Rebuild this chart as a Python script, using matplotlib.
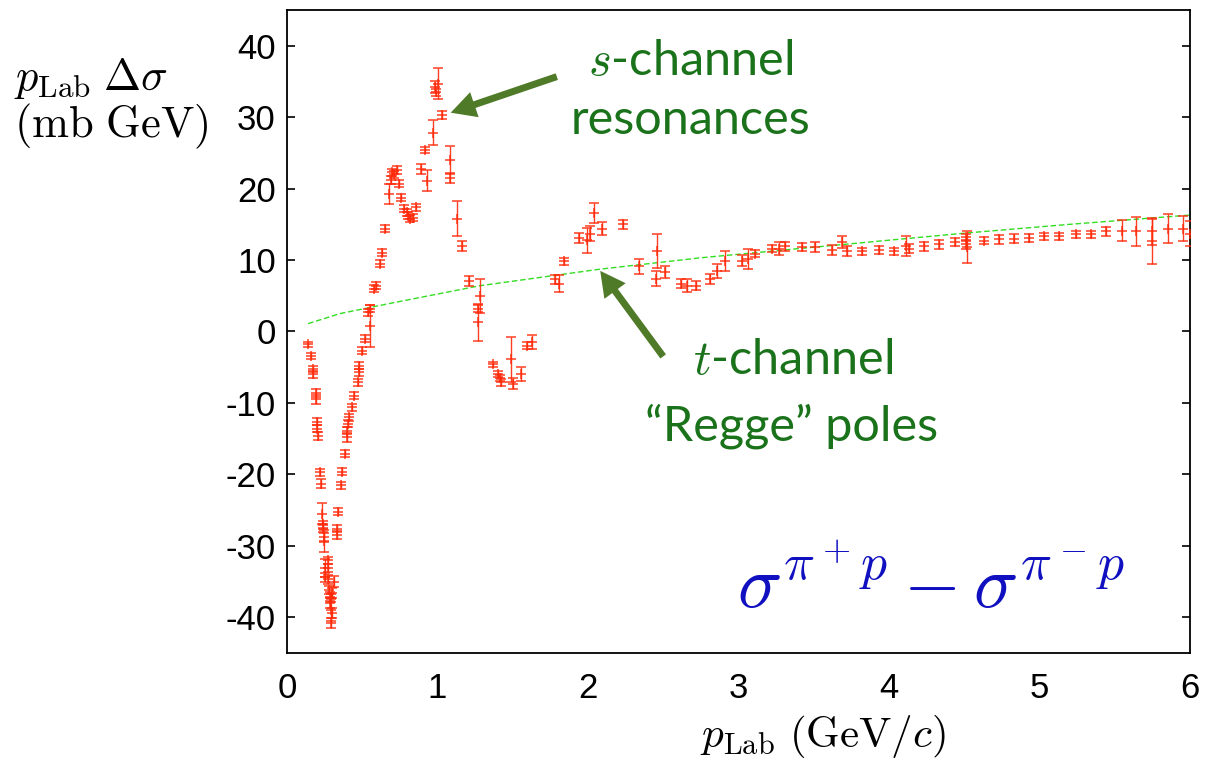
import matplotlib.pyplot as plt

plt.rcParams['mathtext.fontset'] = 'cm'
plt.rcParams['axes.unicode_minus'] = False

# p_Lab (GeV/c), p_Lab*Delta sigma (mb GeV), hibák
p_lab = [0.14, 0.16, 0.17, 0.175, 0.19, 0.19, 0.20, 0.20, 0.205, 0.22, 0.225,
         0.235, 0.24, 0.24, 0.245, 0.245,
         0.25, 0.25, 0.27, 0.27, 0.27, 0.28, 0.285, 0.29, 0.285, 0.29, 0.30, 0.295, 0.31, 0.30,
         0.33, 0.33, 0.34, 0.36, 0.365, 0.385, 0.40, 0.40, 0.405, 0.41, 0.43, 0.445,
         0.47, 0.475, 0.48, 0.50, 0.52, 0.55, 0.54, 0.55,
         0.58, 0.59, 0.62, 0.63, 0.65, 0.68, 0.69, 0.70, 0.71, 0.73, 0.745, 0.76,
         0.78, 0.80, 0.805, 0.82, 0.835, 0.86, 0.89, 0.92, 0.93, 0.97, 0.98, 0.99,
         1.0, 1.03, 1.08, 1.08, 1.13, 1.16, 1.21, 1.28, 1.27, 1.27, 1.37, 1.40,
         1.415, 1.42, 1.49, 1.50, 1.555, 1.595, 1.63, 1.78, 1.81, 1.84, 1.94, 1.99,
         2.01, 2.04, 2.09, 2.23, 2.34, 2.46, 2.45, 2.51, 2.62, 2.66, 2.72, 2.81,
         2.86, 2.91, 3.02, 3.06, 3.11, 3.22, 3.27, 3.31, 3.42, 3.51, 3.62, 3.69,
         3.72, 3.82, 3.93, 4.03, 4.11, 4.13, 4.23, 4.33, 4.44, 4.51, 4.51, 4.52,
         4.63, 4.73, 4.83, 4.93, 5.03, 5.13, 5.24, 5.34, 5.44, 5.55, 5.64, 5.75,
         5.75, 5.85, 5.95, 6.0]
delta = [-1.8, -3.4, -5.2, -6.0, -8.6, -9.5, -12.6, -13.6, -14.6, -19.7, -21.3,
         -25.5, -27.0, -27.6, -28.8, -29.3,
         -33.1, -34.4, -32.0, -33.1, -34.7, -36.2, -37.1, -37.3, -38.0, -39.0, -39.4, -40.8, -35.0, -36.6,
         -28.5, -27.6, -25.2, -21.5, -19.6, -17.1, -14.8, -13.9, -12.9, -12.0, -10.6, -9.0,
         -7.1, -5.7, -4.8, -2.7, -1.0, 0.8, 2.7, 3.2,
         6.0, 6.4, 9.5, 11.0, 14.4, 19.2, 21.2, 22.3, 22.0, 22.6, 20.7, 18.7,
         17.2, 16.7, 16.2, 15.8, 15.9, 17.4, 22.8, 25.4, 21.1, 27.8, 34.2, 33.5,
         34.7, 30.3, 24.0, 21.5, 15.8, 11.9, 7.1, 5.0, 3.2, 1.3, -4.6, -5.9,
         -6.5, -7.1, -3.9, -7.3, -5.9, -2.0, -1.5, 7.3, 6.7, 9.8, 13.1, 12.8,
         13.7, 16.6, 14.4, 15.0, 9.1, 11.3, 7.4, 8.3, 6.7, 6.4, 6.4, 7.4,
         8.5, 9.9, 9.9, 10.2, 10.9, 11.6, 11.6, 11.9, 11.8, 11.8, 11.4, 12.5,
         11.2, 11.2, 11.4, 11.2, 11.9, 11.6, 11.9, 12.2, 12.5, 13.2, 12.2, 11.8,
         12.7, 12.9, 13.0, 13.1, 13.3, 13.3, 13.6, 13.6, 14.0, 14.1, 14.0, 14.0,
         12.6, 14.4, 14.4, 13.7]
hiba = [0.4, 0.4, 0.4, 0.5, 0.5, 0.6, 0.5, 0.5, 0.6, 0.5, 0.6,
        1.5, 0.5, 0.5, 0.6, 1.5,
        1.3, 0.6, 0.5, 0.6, 0.6, 0.6, 0.6, 0.6, 0.7, 1.5, 0.7, 0.7, 0.8, 0.7,
        0.6, 0.5, 0.5, 0.5, 0.5, 0.5, 0.6, 0.5, 0.5, 0.5, 0.5, 0.5,
        0.5, 0.5, 0.5, 0.5, 0.5, 2.9, 0.5, 0.5,
        0.5, 0.5, 0.5, 0.5, 0.5, 1.4, 0.5, 0.5, 0.5, 0.5, 0.5, 0.5,
        0.5, 0.5, 0.5, 0.5, 0.5, 0.5, 0.7, 0.4, 1.5, 1.75, 0.8, 0.5,
        2.2, 0.6, 1.9, 0.7, 2.5, 0.7, 0.7, 2.4, 0.5, 2.6, 0.4, 0.4,
        0.4, 0.5, 3.1, 0.8, 1.0, 0.5, 1.0, 0.6, 1.2, 0.5, 0.7, 1.75,
        1.0, 1.4, 0.9, 0.6, 1.0, 2.4, 1.0, 0.8, 0.6, 0.9, 0.6, 0.7,
        1.0, 1.4, 0.8, 1.4, 0.5, 0.5, 0.9, 0.6, 0.6, 0.7, 0.7, 0.8,
        0.7, 0.5, 0.6, 0.5, 1.4, 0.6, 0.6, 0.6, 0.6, 0.5, 0.6, 2.2,
        0.5, 0.6, 0.6, 0.6, 0.5, 0.5, 0.5, 0.5, 0.6, 1.5, 2.0, 1.9,
        3.1, 2.0, 1.8, 1.8]

# Regge illesztés, a képről leolvasott pontok
regge_p = [0.14, 0.35, 0.7, 1.28, 2.07, 2.74, 3.5, 4.52, 5.2, 6.0]
regge_y = [1.1, 2.5, 4.0, 6.4, 8.7, 10.3, 11.8, 13.8, 15.0, 16.3]

xticks = [0, 1, 2, 3, 4, 5, 6]
yticks = [-40, -30, -20, -10, 0, 10, 20, 30, 40]

fig = plt.figure(figsize=(12.06, 7.64), dpi=100)
ax = fig.add_axes([0.238, 0.1453, 0.7488, 0.8416])

ax.plot(regge_p, regge_y, color="#33dd22", ls=(0, (4, 2)), lw=1.0, zorder=2)
ax.errorbar(p_lab, delta, yerr=hiba, fmt="+", color="#ff2a0a", ms=7.5, mew=1.1,
            elinewidth=1.0, capsize=3.5, capthick=1.1, alpha=0.9, zorder=3)

ax.set_xlim(0, 6)
ax.set_ylim(-45, 45)
ax.set_xticks(xticks)
ax.set_yticks(yticks)
ax.tick_params(axis="y", direction="in", length=6, width=1.2, right=True,
               labelsize=25, pad=8)
ax.tick_params(axis="x", length=0, labelsize=25, pad=14)
for lab in ax.get_xticklabels() + ax.get_yticklabels():
    lab.set_family("Liberation Sans")
for s in ax.spines.values():
    s.set_linewidth(1.3)

zold = "#1a721a"
nyil = "#4f7a28"
ax.annotate("", xy=(1.07, 30.5), xytext=(1.81, 35.8),
            arrowprops=dict(arrowstyle="simple,head_length=0.9,head_width=0.95,tail_width=0.25",
                            mutation_scale=20, color=nyil, lw=0))
ax.annotate("", xy=(2.07, 8.8), xytext=(2.51, -3.8),
            arrowprops=dict(arrowstyle="simple,head_length=0.9,head_width=0.95,tail_width=0.25",
                            mutation_scale=20, color=nyil, lw=0))

ax.text(2.68, 37.8, r"$s$-channel", color=zold, fontsize=35, family="Lato",
        ha="center", va="center")
ax.text(2.68, 29.6, "resonances", color=zold, fontsize=35, family="Lato",
        ha="center", va="center")
ax.text(3.36, -4.0, r"$t$-channel", color=zold, fontsize=35, family="Lato",
        ha="center", va="center")
ax.text(3.35, -13.2, "\u201cRegge\u201d poles", color=zold, fontsize=35, family="Lato",
        ha="center", va="center")
ax.text(4.28, -35.8, r"$\sigma^{\pi^+p} - \sigma^{\pi^-p}$", color="#1010c0",
        fontsize=53, ha="center", va="center")

fig.text(0.012, 0.897, r"$p_{\rm Lab}\;\Delta\sigma$", fontsize=32, ha="left", va="center")
fig.text(0.012, 0.834, r"$\rm (mb\ GeV)$", fontsize=32, ha="left", va="center")
fig.text(0.682, 0.036, r"$p_{\rm Lab}\ {\rm (GeV/}c{\rm )}$", fontsize=31, ha="center", va="center")

plt.savefig("out.png")
plt.close()
